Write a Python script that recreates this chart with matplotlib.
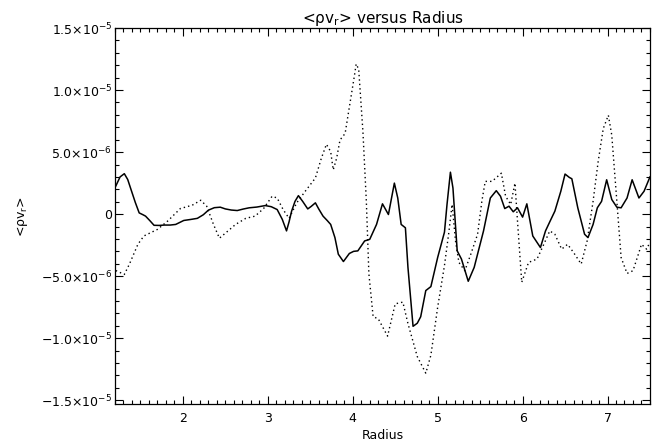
import matplotlib
matplotlib.use("Agg")
import matplotlib.pyplot as plt
from matplotlib.ticker import MultipleLocator, FixedLocator, FixedFormatter

# solid curve: radius and <rho v_r> (units of 1e-6)
radius_solid = [1.21, 1.26, 1.31, 1.35, 1.39, 1.44, 1.485, 1.53, 1.56, 1.61,
                1.66, 1.72, 1.78, 1.85, 1.915, 2.01, 2.09, 2.17, 2.24, 2.30,
                2.37, 2.44, 2.50, 2.57, 2.64, 2.71, 2.78, 2.87, 2.97, 3.04,
                3.11, 3.17, 3.22, 3.25, 3.28, 3.32, 3.36, 3.41, 3.47, 3.51,
                3.56, 3.60, 3.65, 3.70, 3.74, 3.79, 3.83, 3.89, 3.96, 4.01,
                4.06, 4.14, 4.20, 4.28, 4.35, 4.42, 4.49, 4.53, 4.57, 4.62,
                4.65, 4.71, 4.76, 4.80, 4.86, 4.92, 5.00, 5.08, 5.11, 5.15,
                5.18, 5.23, 5.28, 5.36, 5.43, 5.54, 5.62, 5.69, 5.74, 5.79,
                5.84, 5.89, 5.94, 6.00, 6.05, 6.12, 6.21, 6.27, 6.32, 6.38,
                6.45, 6.50, 6.55, 6.58, 6.65, 6.73, 6.77, 6.83, 6.88, 6.93,
                6.99, 7.05, 7.11, 7.16, 7.23, 7.29, 7.37, 7.43, 7.50]
flux_solid = [2.27, 3.0, 3.26, 2.79, 1.96, 0.93, 0.1, -0.05, -0.16, -0.52,
              -0.9, -0.91, -0.88, -0.88, -0.83, -0.51, -0.43, -0.34, -0.05, 0.32,
              0.52, 0.56, 0.42, 0.33, 0.29, 0.41, 0.51, 0.57, 0.69, 0.6,
              0.37, -0.42, -1.35, -0.62, 0.24, 1.03, 1.49, 1.03, 0.42, 0.62,
              0.91, 0.41, -0.16, -0.52, -0.83, -1.89, -3.23, -3.82, -3.17, -3.0,
              -2.96, -2.16, -2.03, -0.83, 0.83, -0.03, 2.5, 1.3, -0.83, -1.1,
              -4.29, -9.04, -8.79, -8.27, -6.16, -5.84, -3.49, -1.45, 0.78, 3.38,
              2.1, -2.96, -3.62, -5.41, -4.29, -1.35, 1.3, 1.89, 1.44, 0.45,
              0.64, 0.19, 0.51, -0.24, 0.83, -1.76, -2.69, -1.35, -0.62, 0.24,
              1.84, 3.23, 2.96, 2.85, 0.51, -1.62, -1.89, -0.83, 0.51, 1.03,
              2.77, 1.18, 0.56, 0.51, 1.3, 2.77, 1.3, 1.84, 3.0]

# dotted curve
radius_dotted = [1.21, 1.31, 1.37, 1.47, 1.54, 1.70, 1.82, 1.97, 2.11, 2.21,
                 2.28, 2.36, 2.43, 2.54, 2.62, 2.74, 2.85, 2.95, 3.05, 3.11,
                 3.18, 3.25, 3.34, 3.44, 3.56, 3.63, 3.69, 3.74, 3.77, 3.81,
                 3.85, 3.91, 3.96, 4.02, 4.04, 4.07, 4.12, 4.16, 4.19, 4.24,
                 4.30, 4.41, 4.50, 4.59, 4.65, 4.76, 4.86, 4.92, 5.00, 5.08,
                 5.13, 5.17, 5.21, 5.25, 5.32, 5.39, 5.47, 5.52, 5.56, 5.64,
                 5.75, 5.80, 5.86, 5.91, 5.94, 5.99, 6.07, 6.17, 6.25, 6.32,
                 6.38, 6.46, 6.53, 6.60, 6.69, 6.76, 6.83, 6.89, 6.95, 7.01,
                 7.05, 7.11, 7.16, 7.23, 7.30, 7.37, 7.40, 7.46, 7.50]
flux_dotted = [-4.55, -4.86, -4.03, -2.43, -1.76, -1.23, -0.56, 0.45, 0.72, 1.12,
               0.64, -0.83, -1.94, -1.3, -0.83, -0.34, -0.16, 0.45, 1.44, 1.3,
               0.37, -0.34, 0.91, 1.84, 2.91, 4.5, 5.63, 5.04, 3.57, 4.5,
               5.98, 6.5, 8.63, 11.17, 12.1, 11.68, 6.62, 1.03, -4.82, -8.27,
               -8.43, -9.83, -7.23, -7.09, -8.82, -11.48, -12.82, -11.37, -7.5, -4.14,
               -1.55, 0.78, -2.16, -3.89, -4.56, -3.23, -1.62, 1.03, 2.64, 2.64,
               3.3, 1.44, 0.78, 2.5, -0.56, -5.49, -3.89, -3.62, -2.43, -1.35,
               -1.62, -2.82, -2.43, -3.09, -4.02, -2.16, 1.03, 4.24, 6.9, 7.97,
               6.37, 1.03, -3.49, -4.78, -4.56, -3.09, -2.43, -2.82, -2.27]

ytick_vals = [-1.5e-5, -1.0e-5, -5.0e-6, 0, 5.0e-6, 1.0e-5, 1.5e-5]
ytick_labels = [r"$-$1.5$\times$10$^{-5}$", r"$-$1.0$\times$10$^{-5}$",
                r"$-$5.0$\times$10$^{-6}$", "0",
                r"5.0$\times$10$^{-6}$", r"1.0$\times$10$^{-5}$",
                r"1.5$\times$10$^{-5}$"]

plt.rcParams["font.size"] = 9
plt.rcParams["mathtext.default"] = "regular"

fig = plt.figure(figsize=(6.65, 4.46), dpi=100)
ax = fig.add_axes([0.1729, 0.0942, 0.8045, 0.843])

scale = 1e-6
ax.plot(radius_solid, [v * scale for v in flux_solid], color="black", lw=1.1)
ax.plot(radius_dotted, [v * scale for v in flux_dotted], color="black",
        lw=1.0, linestyle=(0, (1, 2.2)))

ax.set_xlim(1.2, 7.5)
ax.set_ylim(-1.53e-5, 1.5e-5)

ax.xaxis.set_major_locator(MultipleLocator(1))
ax.xaxis.set_minor_locator(MultipleLocator(0.1))
ax.yaxis.set_major_locator(FixedLocator(ytick_vals))
ax.yaxis.set_major_formatter(FixedFormatter(ytick_labels))
ax.yaxis.set_minor_locator(MultipleLocator(1e-6))

ax.tick_params(which="both", direction="in", top=True, right=True, width=0.8)
ax.tick_params(which="major", length=5.8)
ax.tick_params(which="minor", length=3)
ax.tick_params(axis="x", which="major", pad=6)
ax.tick_params(axis="y", which="major", pad=2)
for s in ax.spines.values():
    s.set_linewidth(0.9)

ax.set_title(r"<ρv$_r$> versus Radius", fontsize=11, pad=3)
ax.set_xlabel("Radius", labelpad=3)
ax.set_ylabel(r"<ρv$_r$>")
ax.yaxis.set_label_coords(-0.158, 0.5)

plt.savefig("out.png", dpi=100)
